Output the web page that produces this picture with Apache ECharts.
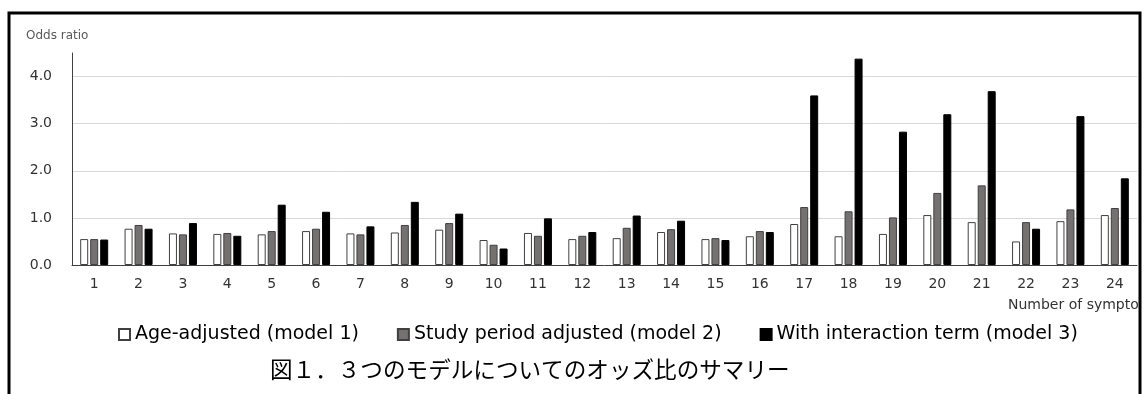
<!DOCTYPE html>
<html>
<head>
<meta charset="utf-8">
<script src="https://cdn.jsdelivr.net/npm/echarts@6/dist/echarts.min.js"></script>
<style>
  html, body { margin: 0; padding: 0; background: #fff; }
  #chart { width: 1145px; height: 394px; }
</style>
</head>
<body>
<div id="chart"></div>
<script>
const categories = ['1','2','3','4','5','6','7','8','9','10','11','12','13','14','15','16','17','18','19','20','21','22','23','24'];
const seriesNames = ['Age-adjusted (model 1)', 'Study period adjusted (model 2)', 'With interaction term (model 3)'];
const model1 = [0.55, 0.77, 0.67, 0.66, 0.65, 0.72, 0.67, 0.69, 0.75, 0.53, 0.68, 0.55, 0.57, 0.70, 0.55, 0.61, 0.87, 0.61, 0.66, 1.06, 0.91, 0.50, 0.93, 1.06];
const model2 = [0.55, 0.85, 0.65, 0.68, 0.72, 0.77, 0.65, 0.85, 0.89, 0.43, 0.62, 0.62, 0.79, 0.76, 0.57, 0.72, 1.23, 1.14, 1.01, 1.53, 1.69, 0.91, 1.18, 1.21];
const model3 = [0.54, 0.77, 0.89, 0.62, 1.28, 1.13, 0.82, 1.34, 1.09, 0.35, 0.99, 0.70, 1.05, 0.94, 0.53, 0.70, 3.60, 4.38, 2.83, 3.20, 3.69, 0.77, 3.16, 1.84];

const chart = echarts.init(document.getElementById('chart'));
const font = 'DejaVu Sans';

const option = {
    animation: false,
    textStyle: { fontFamily: font },
    grid: { left: 72, right: 8, top: 53, bottom: 129 },
    legend: {
        left: 113,
        top: 320,
        itemWidth: 11,
        itemHeight: 11,
        itemGap: 38,
        icon: 'rect',
        textStyle: { fontSize: 19, color: '#000', fontFamily: font },
        data: seriesNames
    },
    xAxis: {
        type: 'category',
        data: categories,
        axisLine: { lineStyle: { color: '#404040', width: 1 } },
        axisTick: { show: false },
        axisLabel: { fontSize: 14, color: '#333', margin: 12 }
    },
    yAxis: {
        type: 'value',
        min: 0,
        max: 4.5,
        interval: 1,
        axisLine: { show: true, lineStyle: { color: '#404040', width: 1 } },
        axisTick: { show: false },
        axisLabel: {
            fontSize: 14,
            color: '#333',
            margin: 20,
            showMaxLabel: false,
            formatter: v => v.toFixed(1)
        },
        splitLine: { showMaxLine: false, lineStyle: { color: '#d9d9d9', width: 1 } }
    },
    series: [
        {
            name: seriesNames[0],
            type: 'bar',
            data: model1,
            barWidth: 8,
            barGap: '25%',
            itemStyle: { color: '#ffffff', borderColor: '#404040', borderWidth: 1 }
        },
        {
            name: seriesNames[1],
            type: 'bar',
            data: model2,
            barWidth: 8,
            barGap: '25%',
            itemStyle: { color: '#767171', borderColor: '#404040', borderWidth: 1 }
        },
        {
            name: seriesNames[2],
            type: 'bar',
            data: model3,
            barWidth: 8,
            barGap: '25%',
            itemStyle: { color: '#000000', borderColor: '#000000', borderWidth: 1 }
        }
    ],
    graphic: [
        {
            type: 'text',
            left: 26,
            top: 30,
            style: { text: 'Odds ratio', font: '12px "DejaVu Sans"', fill: '#595959' }
        },
        {
            type: 'text',
            left: 1008,
            top: 298,
            z: 10,
            style: { text: 'Number of symptoms', font: '14px "DejaVu Sans"', fill: '#333' }
        },
        {
            type: 'rect',
            z: 20,
            shape: { x: 1141, y: 0, width: 10, height: 394 },
            style: { fill: '#fff' }
        },
        {
            type: 'polyline',
            z: 30,
            shape: { points: [[9, 394], [9, 13], [1140, 13], [1140, 394]] },
            style: { stroke: '#000', lineWidth: 3, fill: null }
        },
        {
            type: 'text',
            left: 270,
            top: 358,
            z: 10,
            style: { text: '図１．３つのモデルについてのオッズ比のサマリー', font: '22.6px "Noto Sans CJK JP"', fill: '#000' }
        }
    ]
};

chart.setOption(option);
</script>
</body>
</html>
